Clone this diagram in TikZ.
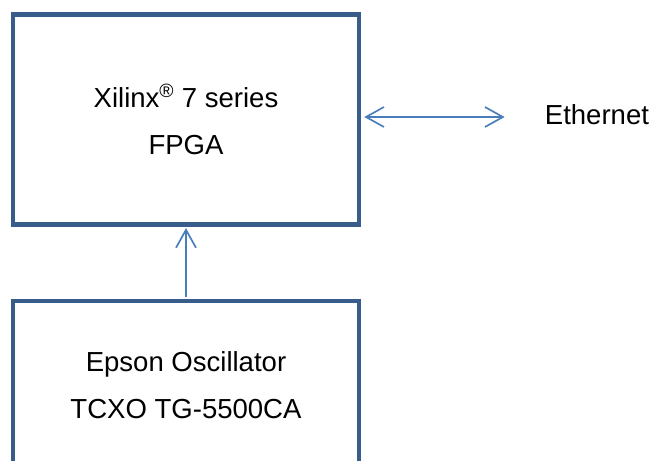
\documentclass[tikz,border=0pt]{standalone}
\usepackage{fontspec}
\setmainfont{Liberation Sans}
\usetikzlibrary{arrows.meta}

\definecolor{boxblue}{HTML}{385D8A}
\definecolor{linkblue}{HTML}{4A7EBB}

\tikzset{
  block/.style={draw=boxblue, line width=0.135cm, minimum width=10.38cm, align=center,
    font=\fontsize{23.5}{40}\selectfont},
  link/.style={draw=linkblue, line width=0.06cm,
    {Straight Barb[length=0.54cm, width=0.6cm, line width=0.05cm]}-{Straight Barb[length=0.54cm, width=0.6cm, line width=0.05cm]}},
  uplink/.style={draw=linkblue, line width=0.06cm,
    -{Straight Barb[length=0.54cm, width=0.6cm, line width=0.05cm]}}
}

\begin{document}
\begin{tikzpicture}[x=0.03cm, y=-0.03cm]
        \useasboundingbox (0,0) rectangle (653,461);

        % boxes
        \node[block, minimum height=6.3cm] (fpga) at (186,119.5) {Xilinx\textsuperscript{\textregistered} 7 series\\FPGA};
        \node[block, minimum height=5.04cm] (osc) at (186,385) {Epson Oscillator\\TCXO TG-5500CA};

        \node[font=\fontsize{23.5}{28}\selectfont, anchor=west, inner sep=0.05cm] (eth) at (543,115) {Ethernet};

        % links
        \draw[link, shorten <=0.09cm, shorten >=1.15cm] (fpga.east |- 0,117) -- (eth.west |- 0,117);
        \draw[uplink, shorten <=0.06cm, shorten >=0.04cm] (osc.north) -- (fpga.south);
\end{tikzpicture}
\end{document}
